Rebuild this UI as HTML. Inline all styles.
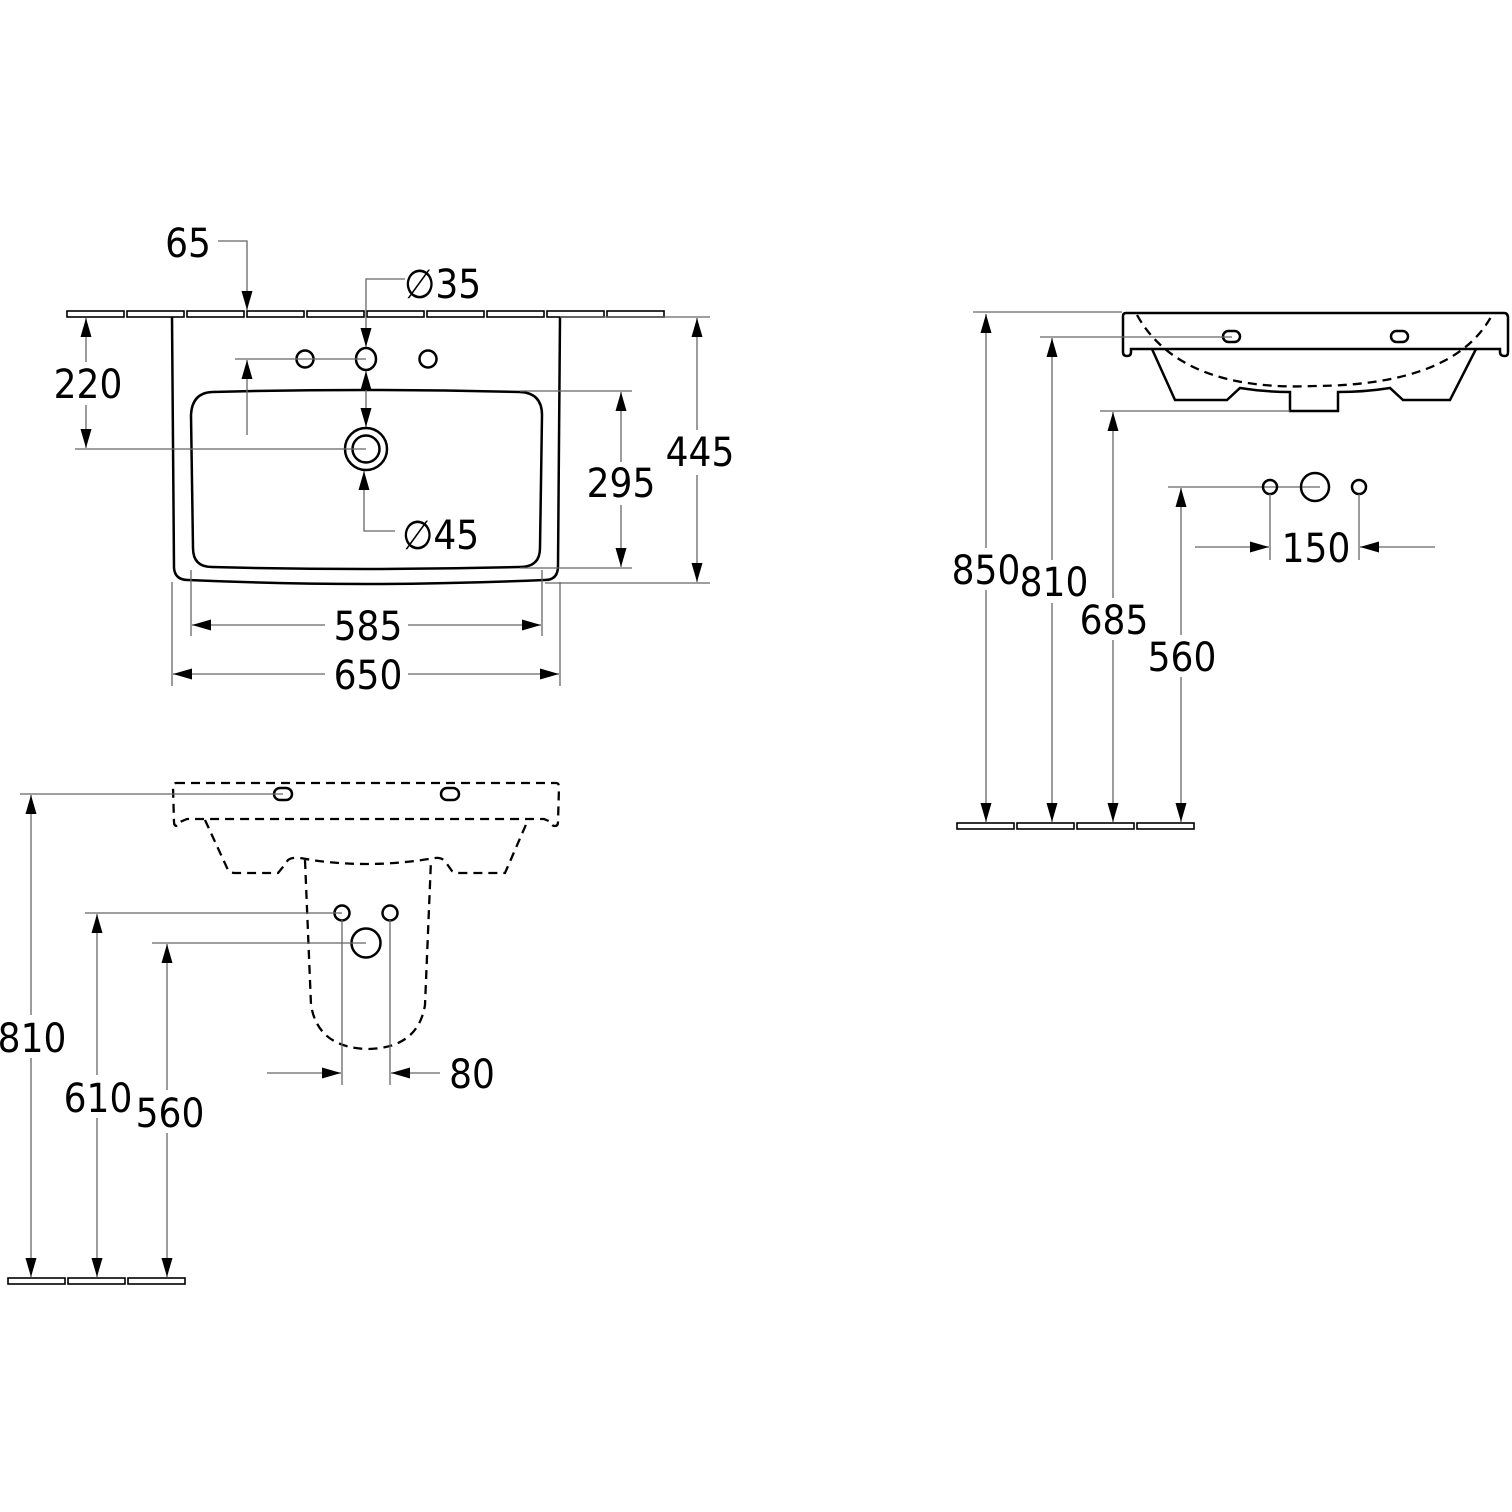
<!DOCTYPE html>
<html><head><meta charset="utf-8"><style>
html,body{margin:0;padding:0;background:#fff}
svg{display:block}
text{font-family:"DejaVu Sans Condensed","DejaVu Sans","Liberation Sans",sans-serif;font-size:40px;fill:#000;font-stretch:condensed}
.d{stroke:#666;stroke-width:1.3;fill:none}
.s{stroke:#000;stroke-width:2.5;fill:none}
.k{stroke:#000;stroke-width:2.3;fill:none;stroke-dasharray:9 6}
.w{stroke:#000;stroke-width:1.6;fill:#fff}
</style></head><body>
<svg width="1512" height="1512" viewBox="0 0 1512 1512" xmlns="http://www.w3.org/2000/svg">
<defs>
<marker id="a" markerWidth="20" markerHeight="12" refX="19" refY="5.5" orient="auto" markerUnits="userSpaceOnUse"><path d="M0,0 L19,5.5 L0,11 z" fill="#000"/></marker>
</defs>

<!-- ============ TOP VIEW ============ -->
<g>
<rect class="w" x="67" y="311" width="57" height="6"/>
<rect class="w" x="127" y="311" width="57" height="6"/>
<rect class="w" x="187" y="311" width="57" height="6"/>
<rect class="w" x="247" y="311" width="57" height="6"/>
<rect class="w" x="307" y="311" width="57" height="6"/>
<rect class="w" x="367" y="311" width="57" height="6"/>
<rect class="w" x="427" y="311" width="57" height="6"/>
<rect class="w" x="487" y="311" width="57" height="6"/>
<rect class="w" x="547" y="311" width="57" height="6"/>
<rect class="w" x="607" y="311" width="57" height="6"/>
</g>
<path class="s" d="M172,317 L174,568 Q175,580 188,580 Q280,584 366,584 Q450,584 545,580 Q558,580 558,566 L560,317"/>
<path class="s" d="M212,392 Q366,388 520,392 Q542,393 542,415 L540,548 Q540,567 520,567 Q366,571 212,567 Q193,567 193,548 L191,415 Q192,393 212,392 Z"/>
<circle class="s" cx="305" cy="359" r="8.5" stroke-width="2"/>
<ellipse class="s" cx="366" cy="359" rx="10" ry="11" stroke-width="2"/>
<circle class="s" cx="428" cy="359" r="8.5" stroke-width="2"/>
<circle class="s" cx="366" cy="449" r="21" stroke-width="2"/>
<circle class="s" cx="366" cy="449" r="13.5" stroke-width="2"/>

<!-- 445 -->
<line class="d" x1="560" y1="317" x2="710" y2="317"/>
<line class="d" x1="545" y1="583" x2="710" y2="583"/>
<line class="d" x1="697" y1="430" x2="697" y2="318" marker-end="url(#a)"/>
<line class="d" x1="697" y1="475" x2="697" y2="582" marker-end="url(#a)"/>
<text x="700" y="466" text-anchor="middle">445</text>
<!-- 295 -->
<line class="d" x1="520" y1="391" x2="632" y2="391"/>
<line class="d" x1="520" y1="568" x2="632" y2="568"/>
<line class="d" x1="621" y1="462" x2="621" y2="392" marker-end="url(#a)"/>
<line class="d" x1="621" y1="505" x2="621" y2="567" marker-end="url(#a)"/>
<text x="621" y="497" text-anchor="middle">295</text>
<!-- 220 -->
<line class="d" x1="75" y1="449" x2="366" y2="449"/>
<line class="d" x1="86" y1="362" x2="86" y2="318" marker-end="url(#a)"/>
<line class="d" x1="86" y1="405" x2="86" y2="448" marker-end="url(#a)"/>
<text x="88" y="398" text-anchor="middle">220</text>
<!-- 65 -->
<text x="188" y="257" text-anchor="middle">65</text>
<polyline class="d" points="218,241 247,241 247,310" marker-end="url(#a)"/>
<line class="d" x1="247" y1="435" x2="247" y2="360" marker-end="url(#a)"/>
<line class="d" x1="235" y1="359" x2="366" y2="359"/>
<!-- Ø35 -->
<text x="404" y="298">∅35</text>
<polyline class="d" points="405,279 366,279 366,347" marker-end="url(#a)"/>
<line class="d" x1="366" y1="392" x2="366" y2="371" marker-end="url(#a)"/>
<line class="d" x1="366" y1="392" x2="366" y2="427" marker-end="url(#a)"/>
<!-- Ø45 -->
<text x="402" y="549">∅45</text>
<line class="d" x1="364" y1="490" x2="364" y2="471" marker-end="url(#a)"/>
<polyline class="d" points="364,490 364,531 395,531"/>
<!-- 585 -->
<line class="d" x1="191" y1="570" x2="191" y2="636"/>
<line class="d" x1="542" y1="570" x2="542" y2="636"/>
<line class="d" x1="325" y1="625" x2="192" y2="625" marker-end="url(#a)"/>
<line class="d" x1="408" y1="625" x2="541" y2="625" marker-end="url(#a)"/>
<text x="368" y="640" text-anchor="middle">585</text>
<!-- 650 -->
<line class="d" x1="172" y1="582" x2="172" y2="686"/>
<line class="d" x1="560" y1="582" x2="560" y2="686"/>
<line class="d" x1="325" y1="674" x2="173" y2="674" marker-end="url(#a)"/>
<line class="d" x1="408" y1="674" x2="559" y2="674" marker-end="url(#a)"/>
<text x="368" y="689" text-anchor="middle">650</text>

<!-- ============ SIDE VIEW (right) ============ -->
<path class="s" d="M1126,313 L1504,313 Q1508,313 1508,318 L1508,352 Q1508,356 1505,356 Q1500,356 1500,352 L1500,349 L1131,349 L1131,352 Q1131,356 1127,356 Q1123,356 1123,352 L1123,316 Q1123,313 1126,313 Z"/>
<path class="s" d="M1152,349 L1175,400 L1227,400 L1240,388 Q1265,392 1290,392 L1290,411 L1338,411 L1338,392 Q1365,392 1390,388 L1403,400 L1450,400 L1476,349"/>
<path class="k" d="M1137,315 Q1180,392 1315,386 Q1455,385 1492,315"/>
<rect class="s" x="1223" y="331" width="17" height="11" rx="5.5" stroke-width="2"/>
<rect class="s" x="1391" y="331" width="17" height="11" rx="5.5" stroke-width="2"/>
<!-- floor -->
<rect class="w" x="957" y="823" width="57" height="6"/>
<rect class="w" x="1017" y="823" width="57" height="6"/>
<rect class="w" x="1077" y="823" width="57" height="6"/>
<rect class="w" x="1137" y="823" width="57" height="6"/>
<!-- dims -->
<line class="d" x1="973" y1="312" x2="1122" y2="312"/>
<line class="d" x1="986" y1="548" x2="986" y2="314" marker-end="url(#a)"/>
<line class="d" x1="986" y1="590" x2="986" y2="822" marker-end="url(#a)"/>
<text x="986" y="584" text-anchor="middle">850</text>
<line class="d" x1="1040" y1="337" x2="1232" y2="337"/>
<line class="d" x1="1052" y1="560" x2="1052" y2="338" marker-end="url(#a)"/>
<line class="d" x1="1052" y1="603" x2="1052" y2="822" marker-end="url(#a)"/>
<text x="1054" y="596" text-anchor="middle">810</text>
<line class="d" x1="1100" y1="411" x2="1290" y2="411"/>
<line class="d" x1="1113" y1="598" x2="1113" y2="412" marker-end="url(#a)"/>
<line class="d" x1="1113" y1="640" x2="1113" y2="822" marker-end="url(#a)"/>
<text x="1114" y="634" text-anchor="middle">685</text>
<line class="d" x1="1168" y1="487" x2="1320" y2="487"/>
<line class="d" x1="1181" y1="635" x2="1181" y2="488" marker-end="url(#a)"/>
<line class="d" x1="1181" y1="677" x2="1181" y2="822" marker-end="url(#a)"/>
<text x="1182" y="671" text-anchor="middle">560</text>
<circle class="s" cx="1270" cy="487" r="7" stroke-width="2"/>
<circle class="s" cx="1315" cy="487" r="14" stroke-width="2"/>
<circle class="s" cx="1359" cy="487" r="7" stroke-width="2"/>
<line class="d" x1="1270" y1="494" x2="1270" y2="560"/>
<line class="d" x1="1359" y1="494" x2="1359" y2="560"/>
<line class="d" x1="1195" y1="547" x2="1269" y2="547" marker-end="url(#a)"/>
<line class="d" x1="1435" y1="547" x2="1360" y2="547" marker-end="url(#a)"/>
<text x="1316" y="562" text-anchor="middle">150</text>

<!-- ============ FRONT VIEW (bottom-left) ============ -->
<path class="k" d="M176,783 L556,783 Q559,783 559,787 L558,822 Q558,826 555,826 Q551,826 551,822 L544,819 L187,819 L180,822 Q180,826 177,826 Q174,826 174,822 L173,787 Q173,783 176,783 Z"/>
<path class="k" d="M205,820 L228,870 Q230,873 235,873 L278,873 Q284,866 288,860 Q292,857 300,858 Q365,870 435,858 Q443,857 447,864 L452,871 Q455,873 460,873 L505,873 L528,820"/>
<path class="k" d="M305,860 L311,1005 Q318,1048 368,1049 Q418,1048 425,1005 L431,860"/>
<rect class="s" x="274" y="788" width="18" height="12" rx="6" stroke-width="2"/>
<rect class="s" x="441" y="788" width="18" height="12" rx="6" stroke-width="2"/>
<circle class="s" cx="342" cy="913" r="7.5" stroke-width="2"/>
<circle class="s" cx="390" cy="913" r="7.5" stroke-width="2"/>
<circle class="s" cx="366" cy="943" r="14.5" stroke-width="2"/>
<!-- floor -->
<rect class="w" x="8" y="1278" width="57" height="6"/>
<rect class="w" x="68" y="1278" width="57" height="6"/>
<rect class="w" x="128" y="1278" width="57" height="6"/>
<!-- dims -->
<line class="d" x1="20" y1="794" x2="283" y2="794"/>
<line class="d" x1="31" y1="1015" x2="31" y2="795" marker-end="url(#a)"/>
<line class="d" x1="31" y1="1058" x2="31" y2="1277" marker-end="url(#a)"/>
<text x="32" y="1052" text-anchor="middle">810</text>
<line class="d" x1="85" y1="913" x2="342" y2="913"/>
<line class="d" x1="97" y1="1075" x2="97" y2="914" marker-end="url(#a)"/>
<line class="d" x1="97" y1="1118" x2="97" y2="1277" marker-end="url(#a)"/>
<text x="98" y="1112" text-anchor="middle">610</text>
<line class="d" x1="152" y1="943" x2="366" y2="943"/>
<line class="d" x1="167" y1="1090" x2="167" y2="944" marker-end="url(#a)"/>
<line class="d" x1="167" y1="1133" x2="167" y2="1277" marker-end="url(#a)"/>
<text x="170" y="1127" text-anchor="middle">560</text>
<line class="d" x1="342" y1="920" x2="342" y2="1085"/>
<line class="d" x1="390" y1="920" x2="390" y2="1085"/>
<line class="d" x1="267" y1="1073" x2="341" y2="1073" marker-end="url(#a)"/>
<line class="d" x1="440" y1="1073" x2="391" y2="1073" marker-end="url(#a)"/>
<text x="472" y="1088" text-anchor="middle">80</text>
</svg>
</body></html>
